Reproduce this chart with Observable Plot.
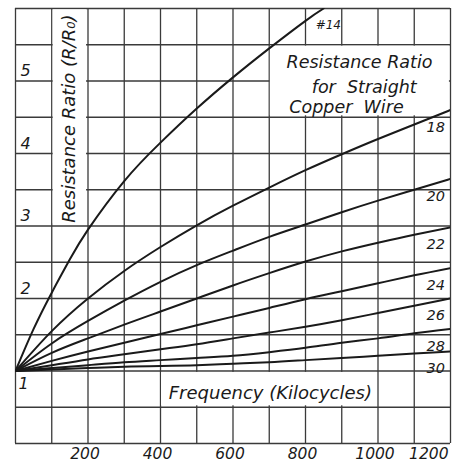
<!DOCTYPE html>
<html>
<head>
<meta charset="utf-8">
<script src="https://cdn.jsdelivr.net/npm/d3@7"></script>
<script src="https://cdn.jsdelivr.net/npm/@observablehq/plot@0.6"></script>
<style>
  html, body { margin: 0; padding: 0; background: #fff; }
  #chart svg { display: block; }
</style>
</head>
<body>
<div id="chart"></div>
<script>
// ---- data ----
const freq = [0, 100, 200, 300, 400, 500, 600, 700, 800, 900, 1000, 1100, 1200]; // kilocycles
const gauge14Freq = [0, 50, 100, 150, 200, 300, 400, 500, 600, 700, 800, 850];
const gauge14 = [1, 1.58, 2.08, 2.54, 2.95, 3.62, 4.15, 4.62, 5.05, 5.45, 5.83, 6.0];
const gauge18 = [1, 1.55, 2.0, 2.38, 2.71, 3.01, 3.28, 3.53, 3.77, 3.99, 4.2, 4.4, 4.6];
const gauge20 = [1, 1.38, 1.69, 1.97, 2.23, 2.46, 2.66, 2.85, 3.02, 3.19, 3.35, 3.5, 3.65];
const gauge22 = [1, 1.25, 1.45, 1.64, 1.82, 2.0, 2.18, 2.35, 2.51, 2.65, 2.77, 2.88, 2.98];
const gauge24 = [1, 1.14, 1.27, 1.39, 1.51, 1.63, 1.75, 1.87, 1.99, 2.1, 2.21, 2.32, 2.42];
const gauge26 = [1, 1.08, 1.16, 1.23, 1.30, 1.37, 1.45, 1.53, 1.61, 1.7, 1.8, 1.9, 2.0];
const gauge28 = [1, 1.04, 1.08, 1.12, 1.15, 1.18, 1.21, 1.26, 1.32, 1.39, 1.45, 1.52, 1.58];
const gauge30 = [1, 1.02, 1.04, 1.06, 1.07, 1.08, 1.10, 1.12, 1.15, 1.18, 1.21, 1.24, 1.27];
const gaugeNames = ["18", "20", "22", "24", "26", "28", "30"];
const xTickLabels = [200, 400, 600, 800, 1000, 1200];
const yTickLabels = [1, 2, 3, 4, 5];
const xGrid = d3.range(0, 1201, 100);
const yGrid = d3.range(0, 6.01, 0.5);

// ---- build tables ----
const series = [gauge18, gauge20, gauge22, gauge24, gauge26, gauge28, gauge30];
const rows = [];
gauge14Freq.forEach((f, i) => rows.push({gauge: "14", f, r: gauge14[i]}));
series.forEach((s, k) => s.forEach((r, i) => rows.push({gauge: gaugeNames[k], f: freq[i], r})));

// curve end labels sit just under each curve's right end
const endLabels = series.map((s, k) => ({name: gaugeNames[k], r: s[s.length - 1]}));

const font = "'DejaVu Sans', 'Liberation Sans', sans-serif";
const ink = "#1a1a1a";
const gridInk = "#3a3a3a";
const it = {fontStyle: "italic", fill: ink};

const plot = Plot.plot({
  width: 461,
  height: 463,
  marginLeft: 15,
  marginRight: 11,
  marginTop: 8,
  marginBottom: 20,
  x: {domain: [0, 1200], axis: null},
  y: {domain: [0, 6], axis: null},
  style: {background: "#fff", fontFamily: font},
  marks: [
    // grid
    Plot.ruleX(xGrid, {stroke: gridInk, strokeWidth: 1.3}),
    Plot.ruleY(yGrid, {stroke: gridInk, strokeWidth: 1.3}),
    // white label boxes that interrupt the grid
    Plot.rect([{x1: 104, x2: 196, y1: 3.03, y2: 5.98}], {x1: "x1", x2: "x2", y1: "y1", y2: "y2", fill: "#fff"}),
    Plot.rect([{x1: 703, x2: 1197, y1: 4.52, y2: 5.48}], {x1: "x1", x2: "x2", y1: "y1", y2: "y2", fill: "#fff"}),
    Plot.rect([{x1: 403, x2: 997, y1: 0.52, y2: 0.98}], {x1: "x1", x2: "x2", y1: "y1", y2: "y2", fill: "#fff"}),
    // curves
    Plot.line(rows, {x: "f", y: "r", z: "gauge", curve: "natural", stroke: ink, strokeWidth: 2, clip: true}),
    // axis labels
    Plot.text(xTickLabels.filter(v => v < 1200), {x: d => d, y: 0, dx: -3, dy: 11, text: d => String(d),
      fontSize: 15.5, ...it}),
    Plot.text(xTickLabels.filter(v => v === 1200), {x: d => d, y: 0, dx: -2, dy: 11, text: d => String(d),
      textAnchor: "end", fontSize: 15.5, ...it}),
    Plot.text(yTickLabels.filter(v => v > 1), {x: 28, y: d => d, dy: -10, text: d => String(d),
      fontSize: 16, ...it}),
    Plot.text(yTickLabels.filter(v => v === 1), {x: 22, y: d => d, dy: 13, text: d => String(d),
      fontSize: 16, ...it}),
    // titles
    Plot.text(["Resistance Ratio (R/R\u2080)"], {x: 149, y: 4.48, rotate: -90, text: d => d,
      fontSize: 18, ...it}),
    Plot.text(["Resistance Ratio"], {x: 949, y: 5.26, text: d => d, fontSize: 17.5, ...it}),
    Plot.text(["for  Straight"], {x: 962, y: 4.91, text: d => d, fontSize: 17.5, ...it}),
    Plot.text(["Copper  Wire"], {x: 913, y: 4.63, text: d => d, fontSize: 17.5, ...it}),
    Plot.text(["Frequency (Kilocycles)"], {x: 703, y: 0.70, text: d => d, fontSize: 18, ...it}),
    // curve labels
    Plot.text(["#14"], {x: 863, y: 5.77, text: d => d, fontSize: 12, ...it}),
    Plot.text(endLabels, {x: 1159, y: "r", dy: 17, text: "name", fontSize: 14.5, ...it})
  ]
});
document.getElementById("chart").append(plot);
</script>
</body>
</html>
